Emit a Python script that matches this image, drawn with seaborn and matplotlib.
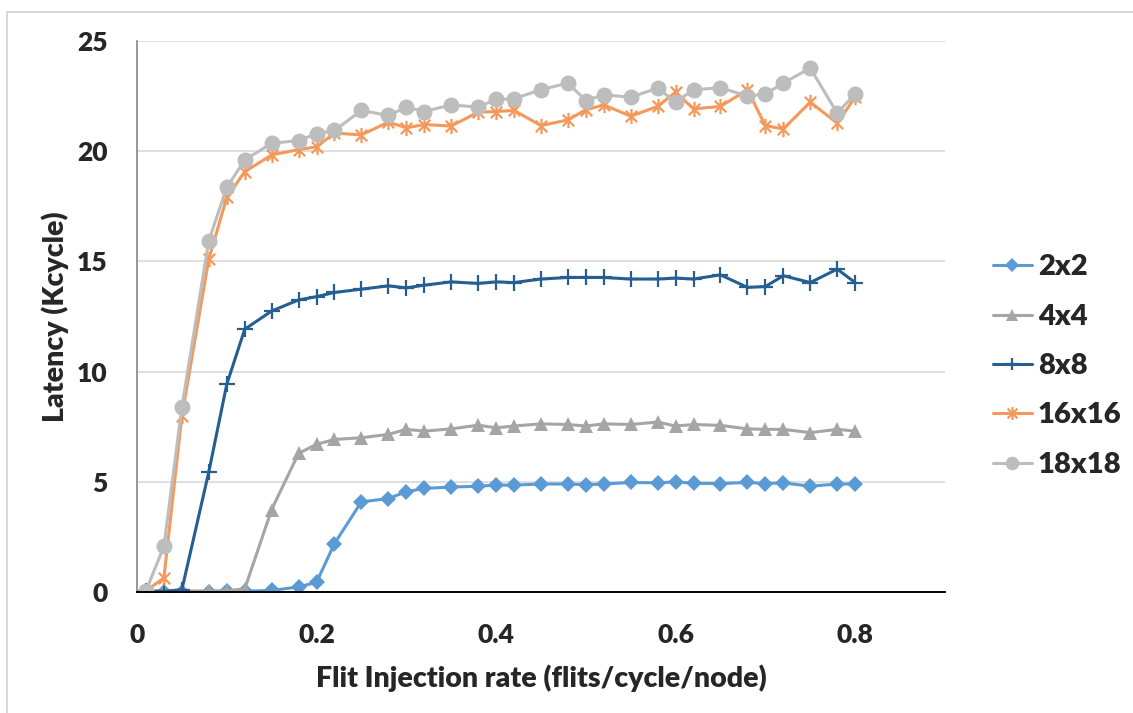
import numpy as np
import pandas as pd
import matplotlib.pyplot as plt
import seaborn as sns
from matplotlib.patches import Rectangle
from matplotlib.lines import Line2D
from matplotlib.path import Path

# ---- data ----
rate = [0.01, 0.03, 0.05, 0.08, 0.10, 0.12, 0.15, 0.18, 0.20, 0.22, 0.25,
        0.28, 0.30, 0.32, 0.35, 0.38, 0.40, 0.42, 0.45, 0.48, 0.50, 0.52,
        0.55, 0.58, 0.60, 0.62, 0.65, 0.68, 0.70, 0.72, 0.75, 0.78, 0.80]

lat_2x2 = [0.02, 0.02, 0.02, 0.02, 0.03, 0.04, 0.07, 0.23, 0.44, 2.20, 4.09,
           4.24, 4.55, 4.70, 4.76, 4.80, 4.85, 4.85, 4.90, 4.90, 4.87, 4.90,
           4.97, 4.95, 5.00, 4.93, 4.92, 4.97, 4.92, 4.95, 4.80, 4.90, 4.90]
lat_4x4 = [0.05, 0.05, 0.05, 0.05, 0.06, 0.14, 3.74, 6.29, 6.70, 6.92, 7.00,
           7.15, 7.38, 7.30, 7.40, 7.57, 7.45, 7.53, 7.63, 7.60, 7.53, 7.63,
           7.60, 7.71, 7.53, 7.60, 7.56, 7.40, 7.38, 7.38, 7.23, 7.38, 7.30]
lat_8x8 = [0.03, 0.03, 0.10, 5.45, 9.42, 11.92, 12.75, 13.25, 13.40, 13.59, 13.74,
           13.89, 13.80, 13.92, 14.07, 14.00, 14.07, 14.04, 14.20, 14.27, 14.27, 14.27,
           14.20, 14.20, 14.24, 14.20, 14.39, 13.82, 13.86, 14.35, 14.04, 14.65, 14.04]
lat_16x16 = [0.05, 0.64, 7.98, 15.10, 17.90, 19.07, 19.83, 20.07, 20.20, 20.82, 20.74,
             21.32, 21.06, 21.21, 21.14, 21.77, 21.80, 21.85, 21.16, 21.42, 21.88, 22.10,
             21.59, 22.03, 22.68, 21.92, 22.03, 22.79, 21.16, 21.01, 22.23, 21.27, 22.45]
lat_18x18 = [0.05, 2.07, 8.39, 15.94, 18.36, 19.60, 20.36, 20.48, 20.79, 20.94, 21.85,
             21.62, 22.00, 21.80, 22.10, 22.00, 22.35, 22.38, 22.79, 23.09, 22.30, 22.56,
             22.45, 22.86, 22.23, 22.79, 22.88, 22.50, 22.60, 23.09, 23.77, 21.73, 22.60]

series_names = ["2x2", "4x4", "8x8", "16x16", "18x18"]
series_vals = [lat_2x2, lat_4x4, lat_8x8, lat_16x16, lat_18x18]
xtick_vals = [0, 0.2, 0.4, 0.6, 0.8]
xtick_labels = ["0", "0.2", "0.4", "0.6", "0.8"]
ytick_vals = [0, 5, 10, 15, 20, 25]

df = pd.DataFrame({"rate": rate * len(series_names),
                   "latency": sum(series_vals, []),
                   "mesh": np.repeat(series_names, len(rate))})

# ---- style ----
sns.set_style("white")
plt.rcParams['font.family'] = ['Lato', 'DejaVu Sans']
plt.rcParams['font.weight'] = 'heavy'
W = "heavy"

# excel-like asterisk: vertical bar plus an X
asterisk = Path([(0, -1), (0, 1), (-0.75, -0.75), (0.75, 0.75), (-0.75, 0.75), (0.75, -0.75)],
                [Path.MOVETO, Path.LINETO, Path.MOVETO, Path.LINETO, Path.MOVETO, Path.LINETO])

styles = {
    "2x2":   dict(color="#5B9BD5", marker="D", ms=8.5, mew=0),
    "4x4":   dict(color="#A5A5A5", marker="^", ms=10, mew=0),
    "8x8":   dict(color="#255E91", marker="+", ms=11, mew=1.6),
    "16x16": dict(color="#F4995B", marker=asterisk, ms=11, mew=1.6),
    "18x18": dict(color="#BDBDBD", marker="o", ms=11.5, mew=0),
}

fig = plt.figure(figsize=(11.33, 7.13), dpi=100)
ax = fig.add_axes([0.1209, 0.1697, 0.834 - 0.1209, 0.9425 - 0.1697])

# chart-area frame (only top/left visible in the crop)
fig.patches.append(Rectangle((7 / 1133, -0.1), 1.2, (713 - 12) / 713 + 0.1,
                             transform=fig.transFigure, fill=False,
                             edgecolor="#D9D9D9", lw=1.5, zorder=0))

handles = []
for name in series_names:
    st = styles[name]
    sub = df[df["mesh"] == name]
    sns.lineplot(data=sub, x="rate", y="latency", ax=ax, color=st["color"],
                 lw=2.2, marker=st["marker"], markersize=st["ms"],
                 markeredgewidth=st["mew"], markeredgecolor=st["color"],
                 markerfacecolor=st["color"], legend=False, errorbar=None)
    handles.append(Line2D([], [], color=st["color"], lw=2.2, marker=st["marker"],
                          markersize=st["ms"] * 0.85, markeredgewidth=st["mew"],
                          markeredgecolor=st["color"], markerfacecolor=st["color"]))

ax.set_xlim(0, 0.9)
ax.set_ylim(0, 25)
ax.set_xticks(xtick_vals)
ax.set_xticklabels(xtick_labels)
ax.set_yticks(ytick_vals)
ax.tick_params(axis="x", direction="out", length=8, width=1.2, color="black",
               labelsize=19, pad=14)
ax.tick_params(axis="y", length=0, labelsize=19, pad=21)
for lab in ax.get_xticklabels() + ax.get_yticklabels():
    lab.set_fontweight(W)

ax.yaxis.grid(True, color="#D9D9D9", lw=1.2)
ax.set_axisbelow(True)
for s in ["top", "right"]:
    ax.spines[s].set_visible(False)
ax.spines["left"].set_color("#868686")
ax.spines["left"].set_linewidth(1.2)
ax.spines["bottom"].set_color("black")
ax.spines["bottom"].set_linewidth(1.4)

ax.set_xlabel("Flit Injection rate (flits/cycle/node)", fontsize=20.5,
              fontweight=W, labelpad=13)
ax.set_ylabel("Latency (Kcycle)", fontsize=20.5, fontweight=W, labelpad=6)

ax.legend(handles, series_names, loc="center left", bbox_to_anchor=(1.059, 0.41),
          frameon=False, prop={"weight": W, "size": 21},
          handlelength=1.35, handletextpad=0.2, labelspacing=0.8, borderaxespad=0,
          borderpad=0)

fig.savefig("out.png", dpi=100)
